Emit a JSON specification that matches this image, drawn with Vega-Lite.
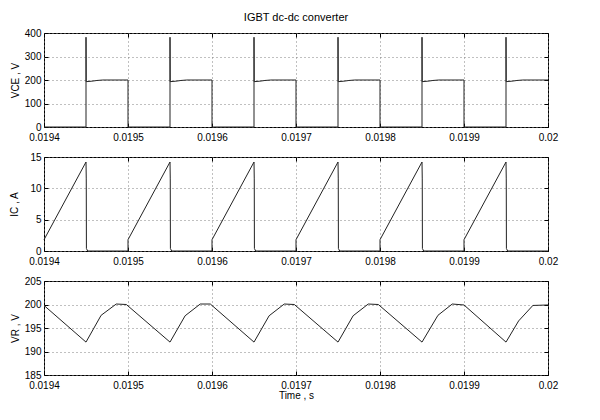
{
  "$schema": "https://vega.github.io/schema/vega-lite/v6.json",
  "background": "white",
  "padding": {"left": 9, "top": 11, "right": 5, "bottom": 5},
  "config": {
    "font": "Liberation Sans",
    "view": {"stroke": "black", "strokeWidth": 1},
    "axis": {
      "labelFont": "Liberation Sans", "labelFontSize": 10, "labelColor": "black",
      "titleFont": "Liberation Sans", "titleFontSize": 10, "titleFontWeight": "normal", "titleColor": "black",
      "domain": false, "tickColor": "black", "tickSize": -4, "labelPadding": 7, "labelFlush": false,
      "gridColor": "#808080", "gridDash": [1, 3], "gridOpacity": 1, "gridWidth": 1
    },
    "axisX": {"labelPadding": 9},
    "line": {"color": "#222222", "strokeWidth": 1}
  },
  "datasets": {
    "vce": [
      {"i": 0, "t": 0.0194, "v": 0}, {"i": 1, "t": 0.01945, "v": 0}, {"i": 2, "t": 0.01945, "v": 382}, {"i": 3, "t": 0.0194502, "v": 193}, {"i": 4, "t": 0.019457, "v": 195}, {"i": 5, "t": 0.019463, "v": 198}, {"i": 6, "t": 0.01947, "v": 200}, {"i": 7, "t": 0.0195, "v": 200},
      {"i": 8, "t": 0.0195, "v": 0}, {"i": 9, "t": 0.01955, "v": 0}, {"i": 10, "t": 0.01955, "v": 382}, {"i": 11, "t": 0.0195502, "v": 193}, {"i": 12, "t": 0.019557, "v": 195}, {"i": 13, "t": 0.019563, "v": 198}, {"i": 14, "t": 0.01957, "v": 200}, {"i": 15, "t": 0.0196, "v": 200},
      {"i": 16, "t": 0.0196, "v": 0}, {"i": 17, "t": 0.01965, "v": 0}, {"i": 18, "t": 0.01965, "v": 382}, {"i": 19, "t": 0.0196502, "v": 193}, {"i": 20, "t": 0.019657, "v": 195}, {"i": 21, "t": 0.019663, "v": 198}, {"i": 22, "t": 0.01967, "v": 200}, {"i": 23, "t": 0.0197, "v": 200},
      {"i": 24, "t": 0.0197, "v": 0}, {"i": 25, "t": 0.01975, "v": 0}, {"i": 26, "t": 0.01975, "v": 382}, {"i": 27, "t": 0.0197502, "v": 193}, {"i": 28, "t": 0.019757, "v": 195}, {"i": 29, "t": 0.019763, "v": 198}, {"i": 30, "t": 0.01977, "v": 200}, {"i": 31, "t": 0.0198, "v": 200},
      {"i": 32, "t": 0.0198, "v": 0}, {"i": 33, "t": 0.01985, "v": 0}, {"i": 34, "t": 0.01985, "v": 382}, {"i": 35, "t": 0.0198502, "v": 193}, {"i": 36, "t": 0.019857, "v": 195}, {"i": 37, "t": 0.019863, "v": 198}, {"i": 38, "t": 0.01987, "v": 200}, {"i": 39, "t": 0.0199, "v": 200},
      {"i": 40, "t": 0.0199, "v": 0}, {"i": 41, "t": 0.01995, "v": 0}, {"i": 42, "t": 0.01995, "v": 382}, {"i": 43, "t": 0.0199502, "v": 193}, {"i": 44, "t": 0.019957, "v": 195}, {"i": 45, "t": 0.019963, "v": 198}, {"i": 46, "t": 0.01997, "v": 200}, {"i": 47, "t": 0.02, "v": 200}
    ],
    "ic": [
      {"i": 0, "t": 0.0194, "v": 1.8}, {"i": 1, "t": 0.01945, "v": 14.2}, {"i": 2, "t": 0.0194503, "v": 11.5}, {"i": 3, "t": 0.0194505, "v": 0.4}, {"i": 4, "t": 0.019452, "v": 0}, {"i": 5, "t": 0.0195, "v": 0},
      {"i": 6, "t": 0.0195, "v": 1.8}, {"i": 7, "t": 0.01955, "v": 14.2}, {"i": 8, "t": 0.0195503, "v": 11.5}, {"i": 9, "t": 0.0195505, "v": 0.4}, {"i": 10, "t": 0.019552, "v": 0}, {"i": 11, "t": 0.0196, "v": 0},
      {"i": 12, "t": 0.0196, "v": 1.8}, {"i": 13, "t": 0.01965, "v": 14.2}, {"i": 14, "t": 0.0196503, "v": 11.5}, {"i": 15, "t": 0.0196505, "v": 0.4}, {"i": 16, "t": 0.019652, "v": 0}, {"i": 17, "t": 0.0197, "v": 0},
      {"i": 18, "t": 0.0197, "v": 1.8}, {"i": 19, "t": 0.01975, "v": 14.2}, {"i": 20, "t": 0.0197503, "v": 11.5}, {"i": 21, "t": 0.0197505, "v": 0.4}, {"i": 22, "t": 0.019752, "v": 0}, {"i": 23, "t": 0.0198, "v": 0},
      {"i": 24, "t": 0.0198, "v": 1.8}, {"i": 25, "t": 0.01985, "v": 14.2}, {"i": 26, "t": 0.0198503, "v": 11.5}, {"i": 27, "t": 0.0198505, "v": 0.4}, {"i": 28, "t": 0.019852, "v": 0}, {"i": 29, "t": 0.0199, "v": 0},
      {"i": 30, "t": 0.0199, "v": 1.8}, {"i": 31, "t": 0.01995, "v": 14.2}, {"i": 32, "t": 0.0199503, "v": 11.5}, {"i": 33, "t": 0.0199505, "v": 0.4}, {"i": 34, "t": 0.019952, "v": 0}, {"i": 35, "t": 0.02, "v": 0}
    ],
    "vr": [
      {"i": 0, "t": 0.0194, "v": 199.8}, {"i": 1, "t": 0.01945, "v": 192.0}, {"i": 2, "t": 0.019468, "v": 197.7}, {"i": 3, "t": 0.019486, "v": 200.1}, {"i": 4, "t": 0.019498, "v": 200.0},
      {"i": 5, "t": 0.01955, "v": 192.0}, {"i": 6, "t": 0.019568, "v": 197.6}, {"i": 7, "t": 0.019586, "v": 200.1}, {"i": 8, "t": 0.019598, "v": 200.1},
      {"i": 9, "t": 0.01965, "v": 192.0}, {"i": 10, "t": 0.019668, "v": 197.6}, {"i": 11, "t": 0.019686, "v": 200.1}, {"i": 12, "t": 0.019698, "v": 200.0},
      {"i": 13, "t": 0.01975, "v": 192.0}, {"i": 14, "t": 0.019768, "v": 197.6}, {"i": 15, "t": 0.019786, "v": 200.1}, {"i": 16, "t": 0.019798, "v": 200.0},
      {"i": 17, "t": 0.01985, "v": 192.0}, {"i": 18, "t": 0.019869, "v": 197.7}, {"i": 19, "t": 0.019886, "v": 200.1}, {"i": 20, "t": 0.0199, "v": 199.9},
      {"i": 21, "t": 0.01995, "v": 192.0}, {"i": 22, "t": 0.019965, "v": 196.5}, {"i": 23, "t": 0.019982, "v": 199.8}, {"i": 24, "t": 0.02, "v": 199.9}
    ]
  },
  "spacing": 30,
  "bounds": "flush",
  "vconcat": [
    {
      "width": 504, "height": 94,
      "title": {"text": "IGBT dc-dc converter", "font": "Liberation Sans", "fontSize": 11, "fontWeight": "normal", "color": "black", "anchor": "middle", "frame": "group", "offset": 5},
      "data": {"name": "vce"},
      "resolve": {"axis": {"x": "independent", "y": "independent"}},
      "layer": [
        {
          "mark": {"type": "line"},
          "encoding": {
            "x": {"field": "t", "type": "quantitative", "scale": {"domain": [0.0194, 0.02], "nice": false, "zero": false}, "axis": {"values": [0.0194, 0.0195, 0.0196, 0.0197, 0.0198, 0.0199, 0.02], "format": ".4~f", "title": null}},
            "y": {"field": "v", "type": "quantitative", "scale": {"domain": [0, 400], "nice": false}, "axis": {"values": [0, 100, 200, 300, 400], "title": "VCE , V", "titlePadding": 4}},
            "order": {"field": "i"}
          }
        },
        {
          "mark": {"type": "line", "opacity": 0},
          "encoding": {
            "x": {"field": "t", "type": "quantitative", "axis": {"orient": "top", "values": [0.0194, 0.0195, 0.0196, 0.0197, 0.0198, 0.0199, 0.02], "labels": false, "grid": false, "title": null}},
            "y": {"field": "v", "type": "quantitative", "axis": {"orient": "right", "values": [0, 100, 200, 300, 400], "labels": false, "grid": false, "title": null}},
            "order": {"field": "i"}
          }
        }
      ]
    },
    {
      "width": 504, "height": 94,
      "data": {"name": "ic"},
      "resolve": {"axis": {"x": "independent", "y": "independent"}},
      "layer": [
        {
          "mark": {"type": "line"},
          "encoding": {
            "x": {"field": "t", "type": "quantitative", "scale": {"domain": [0.0194, 0.02], "nice": false, "zero": false}, "axis": {"values": [0.0194, 0.0195, 0.0196, 0.0197, 0.0198, 0.0199, 0.02], "format": ".4~f", "title": null}},
            "y": {"field": "v", "type": "quantitative", "scale": {"domain": [0, 15], "nice": false}, "axis": {"values": [0, 5, 10, 15], "title": "IC , A", "titlePadding": 10}},
            "order": {"field": "i"}
          }
        },
        {
          "mark": {"type": "line", "opacity": 0},
          "encoding": {
            "x": {"field": "t", "type": "quantitative", "axis": {"orient": "top", "values": [0.0194, 0.0195, 0.0196, 0.0197, 0.0198, 0.0199, 0.02], "labels": false, "grid": false, "title": null}},
            "y": {"field": "v", "type": "quantitative", "axis": {"orient": "right", "values": [0, 5, 10, 15], "labels": false, "grid": false, "title": null}},
            "order": {"field": "i"}
          }
        }
      ]
    },
    {
      "width": 504, "height": 94,
      "data": {"name": "vr"},
      "resolve": {"axis": {"x": "independent", "y": "independent"}},
      "layer": [
        {
          "mark": {"type": "line"},
          "encoding": {
            "x": {"field": "t", "type": "quantitative", "scale": {"domain": [0.0194, 0.02], "nice": false, "zero": false}, "axis": {"values": [0.0194, 0.0195, 0.0196, 0.0197, 0.0198, 0.0199, 0.02], "format": ".4~f", "title": "Time , s", "titlePadding": 0}},
            "y": {"field": "v", "type": "quantitative", "scale": {"domain": [185, 205], "nice": false}, "axis": {"values": [185, 190, 195, 200, 205], "title": "VR , V", "titlePadding": 4}},
            "order": {"field": "i"}
          }
        },
        {
          "mark": {"type": "line", "opacity": 0},
          "encoding": {
            "x": {"field": "t", "type": "quantitative", "axis": {"orient": "top", "values": [0.0194, 0.0195, 0.0196, 0.0197, 0.0198, 0.0199, 0.02], "labels": false, "grid": false, "title": null}},
            "y": {"field": "v", "type": "quantitative", "axis": {"orient": "right", "values": [185, 190, 195, 200, 205], "labels": false, "grid": false, "title": null}},
            "order": {"field": "i"}
          }
        }
      ]
    }
  ]
}
